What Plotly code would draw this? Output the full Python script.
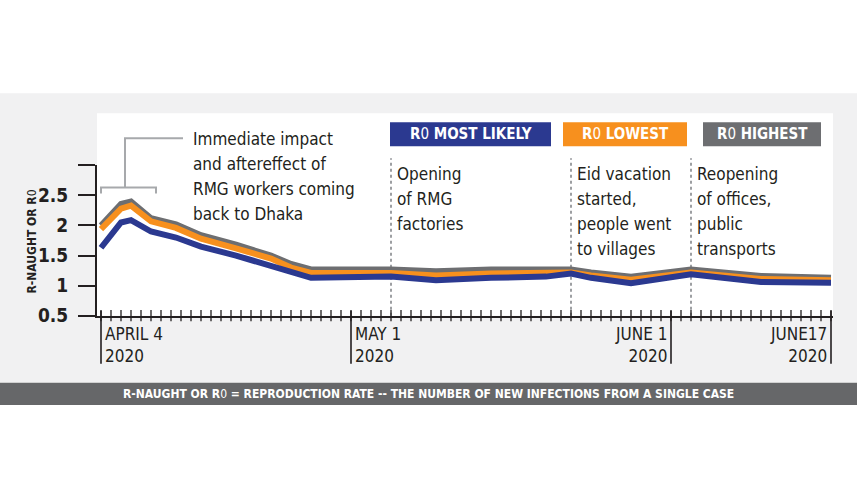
import plotly.graph_objects as go

W, H = 857, 482
VS = 0.975  # vertical factor observed between layout pixels and the photographed page

# ---- data (x = tick index along the date axis, 1 tick per day as drawn) ----
x_idx = [0, 2, 3, 5, 7.5, 10, 13.5, 17, 19, 21, 29, 33.5, 39, 44.5, 47, 49, 53, 59, 66, 73]
r0_most_likely = [1.63, 2.05, 2.09, 1.90, 1.80, 1.65, 1.50, 1.33, 1.21, 1.13, 1.15, 1.09, 1.13, 1.15, 1.20, 1.13, 1.04, 1.19, 1.06, 1.05]
r0_lowest = [1.94, 2.28, 2.33, 2.07, 1.96, 1.78, 1.62, 1.45, 1.30, 1.21, 1.21, 1.17, 1.20, 1.21, 1.22, 1.17, 1.10, 1.22, 1.11, 1.09]
r0_highest = [2.00, 2.36, 2.40, 2.12, 2.02, 1.84, 1.68, 1.50, 1.36, 1.27, 1.27, 1.24, 1.27, 1.27, 1.27, 1.22, 1.15, 1.27, 1.16, 1.13]

y_ticks = [0.5, 1, 1.5, 2, 2.5, 3]
y_ticktext = ["0.5", "1", "1.5", "2", "2.5", ""]

day_ticks = list(range(0, 74))
date_marks = [0, 25, 57, 73]
date_labels = ["APRIL 4<br>2020", "MAY 1<br>2020", "JUNE 1<br>2020", "JUNE17<br>2020"]
date_align = ["left", "left", "right", "right"]

event_x = [29, 47, 59]
event_text = [["Opening", "of RMG", "factories"],
              ["Eid vacation", "started,", "people went", "to villages"],
              ["Reopening", "of offices,", "public", "transports"]]
impact_text = ["Immediate impact", "and aftereffect of", "RMG workers coming", "back to Dhaka"]

BLUE, ORANGE, GREY = "#2b3990", "#f7901e", "#6d6e71"
FONT = "DejaVu Sans Condensed, Liberation Sans Narrow, Liberation Sans, sans-serif"
INK = "#231f20"

def px(x):
    return x / W

def py(y):
    return 1 - (y / VS) / H

# plot area in pixels (as seen in the picture)
PX0, PX1, PY0, PY1 = 97, 833, 165, 315

fig = go.Figure()

for vals, col in [(r0_highest, GREY), (r0_lowest, ORANGE), (r0_most_likely, BLUE)]:
    fig.add_trace(go.Scatter(x=x_idx, y=vals, mode="lines",
                             line=dict(color=col, width=6), hoverinfo="skip",
                             showlegend=False, cliponaxis=False))

# daily tick marks crossing the axis
fig.add_trace(go.Scatter(x=day_ticks, y=[0.5] * len(day_ticks), mode="markers",
                         marker=dict(symbol="line-ns-open", size=8, color=INK,
                                     line=dict(color=INK, width=1.3)),
                         hoverinfo="skip", showlegend=False, cliponaxis=False))

shapes = []
# backgrounds
shapes.append(dict(type="rect", xref="paper", yref="paper", x0=0, x1=1,
                   y0=py(382), y1=py(93), fillcolor="#f1f1f2", line_width=0, layer="below"))
shapes.append(dict(type="rect", xref="paper", yref="paper", x0=px(PX0), x1=px(PX1),
                   y0=py(PY1), y1=py(113), fillcolor="white", line_width=0, layer="below"))
shapes.append(dict(type="rect", xref="paper", yref="paper", x0=0, x1=1,
                   y0=py(404), y1=py(382), fillcolor="#666769", line_width=0, layer="below"))

# event dotted lines
for ex in event_x:
    shapes.append(dict(type="line", xref="x", yref="paper", x0=ex, x1=ex,
                       y0=py(PY1), y1=py(158), line=dict(color="#9d9fa2", width=2, dash="dot"),
                       layer="below"))

# date marker lines
for dm in date_marks:
    shapes.append(dict(type="line", xref="x", yref="paper", x0=dm, x1=dm,
                       y0=py(310), y1=py(363), line=dict(color=INK, width=1.6)))

# bracket
br = "#a7a9ac"
shapes.append(dict(type="path", xref="paper", yref="paper",
                   path=f"M {px(101)} {py(193)} L {px(101)} {py(187)} L {px(156)} {py(187)} L {px(156)} {py(193)}",
                   line=dict(color=br, width=2)))
shapes.append(dict(type="path", xref="paper", yref="paper",
                   path=f"M {px(125)} {py(187)} L {px(125)} {py(138)} L {px(183)} {py(138)}",
                   line=dict(color=br, width=2)))

# legend boxes
legend = [("R0 MOST LIKELY", BLUE, 390, 551), ("R0 LOWEST", ORANGE, 563, 687), ("R0 HIGHEST", "#6d6e71", 703, 821)]
for _, col, x0, x1 in legend:
    shapes.append(dict(type="rect", xref="paper", yref="paper", x0=px(x0), x1=px(x1),
                       y0=py(146), y1=py(122), fillcolor=col, line_width=0))

ann = []

def text_lines(lines, x, y_first, step, size, color=INK, xanchor="left", xref="paper", xshift=0):
    for i, t in enumerate(lines):
        ann.append(dict(text=t, x=x, xref=xref, y=py(y_first + i * step), yref="paper",
                        xanchor=xanchor, yanchor="middle", showarrow=False, xshift=xshift,
                        font=dict(family=FONT, size=size, color=color)))

for (label, col, x0, x1) in legend:
    rich = "<b>R</b>0<b>" + label[2:] + "</b>"
    ann.append(dict(text=rich, x=px((x0 + x1) / 2), y=py(134), xref="paper", yref="paper",
                    xanchor="center", yanchor="middle", showarrow=False,
                    font=dict(family=FONT, size=15, color="white")))

text_lines(impact_text, px(191), 139, 24.7, 17)
for ex, lines in zip(event_x, event_text):
    text_lines(lines, ex, 174, 24.7, 17, xref="x", xshift=4)

for dm, lab, al in zip(date_marks, date_labels, date_align):
    shift = 2 if al == "left" else -2
    ann.append(dict(text=lab, x=dm, xref="x", y=py(344), yref="paper",
                    xanchor=al, yanchor="middle", xshift=shift, showarrow=False, align=al,
                    font=dict(family=FONT, size=17, color=INK)))

# y-axis title
ann.append(dict(text="<b>R-NAUGHT OR R</b>0", x=px(32), y=py(241), xref="paper", yref="paper",
                textangle=-90, showarrow=False, xanchor="center", yanchor="middle",
                font=dict(family=FONT, size=12, color=INK)))

# footer
ann.append(dict(text="<b>R-NAUGHT OR R</b>0<b> = REPRODUCTION RATE -- THE NUMBER OF NEW INFECTIONS FROM A SINGLE CASE</b>",
                x=px(428), y=py(393), xref="paper", yref="paper", xanchor="center", yanchor="middle",
                showarrow=False, font=dict(family=FONT, size=12, color="white")))

fig.update_layout(
    width=W, height=H, margin=dict(l=0, r=0, t=0, b=0),
    paper_bgcolor="white", plot_bgcolor="rgba(0,0,0,0)",
    shapes=shapes, annotations=ann, showlegend=False,
    xaxis=dict(domain=[px(PX0), px(PX1)], range=[-0.4, 73.2], showgrid=False, zeroline=False,
               showline=True, linecolor=INK, linewidth=2, showticklabels=False, ticks=""),
    yaxis=dict(domain=[py(PY1), py(PY0)], range=[0.5, 3.0], showgrid=False, zeroline=False,
               showline=True, linecolor=INK, linewidth=2, ticks="outside", ticklen=17,
               tickwidth=2, tickcolor=INK, tickvals=y_ticks, ticktext=y_ticktext,
               ticklabelstandoff=6,
               tickfont=dict(family=FONT, size=19, color=INK, weight="bold")),
)

post = (
    "var d=document.getElementById('{plot_id}');"
    "var de=document.documentElement, b=document.body;"
    "de.style.margin='0';de.style.padding='0';de.style.overflow='hidden';de.style.height='482px';"
    "b.style.margin='0';b.style.padding='0';b.style.overflow='hidden';b.style.height='482px';"
    "if(d&&d.parentElement){d.parentElement.style.height='482px';d.parentElement.style.overflow='hidden';"
    "d.parentElement.style.lineHeight='0';}"
)

fig.write_html("out.html", config={"displayModeBar": False}, post_script=post)
